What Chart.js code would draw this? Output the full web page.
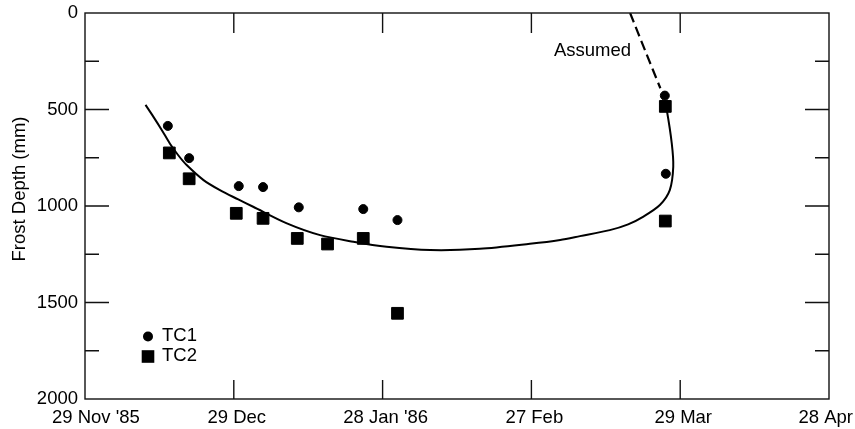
<!DOCTYPE html>
<html lang="en">
<head>
<meta charset="UTF-8">
<title>Frost Depth</title>
<script src="https://cdn.jsdelivr.net/npm/chart.js@4.4.1/dist/chart.umd.min.js"></script>
<style>
    body { margin: 0; background: #fff; }
</style>
</head>
<body>
<canvas id="frostChart" width="855" height="429"></canvas>

<script>
    // x values are days counted from 29 Nov 1985
    const dateTicks = [0, 30, 60, 90, 120, 150];
    const dateLabels = ["29 Nov '85", "29 Dec", "28 Jan '86", "27 Feb", "29 Mar", "28 Apr"];

    // thermocouple readings (mm)
    const tc1Days = [16.7, 21.0, 31.0, 35.9, 43.1, 56.1, 63.0, 116.9, 117.1];
    const tc1Depth = [585, 752, 897, 902, 1007, 1016, 1073, 428, 833];
    const tc2Days = [17.0, 21.0, 30.5, 35.9, 42.8, 48.9, 56.1, 63.0, 117.0, 117.0];
    const tc2Depth = [725, 859, 1038, 1064, 1168, 1197, 1168, 1556, 484, 1078];

    // fitted frost line
    const curveDays = [12.2, 13.8, 15.5, 17.1, 18.8, 20.5, 23.9, 27.2, 30.9, 33.9, 40.7, 47.4, 54.1,
        60.8, 69.6, 79.6, 89.7, 95.8, 99.8, 105.8, 109.5, 112.5, 115.9, 117.9, 118.6, 118.3, 117.3, 117.0];
    const curveDepth = [476, 538, 607, 676, 737, 788, 866, 918, 966, 1004, 1090, 1151, 1185,
        1211, 1228, 1222, 1196, 1176, 1156, 1125, 1095, 1056, 995, 918, 797, 676, 504, 484];

    // assumed thaw from the surface
    const assumedDays = [109.9, 112.9, 116.0];
    const assumedDepth = [0, 193, 390];

    const FONT = "'Liberation Sans', Arial, sans-serif";
    const pts = (xs, ys) => xs.map((v, i) => ({ x: v, y: ys[i] }));

    // box, inward ticks, date labels, axis title, note and key
    const frame = {
        id: 'frame',
        afterDraw(chart) {
            const { ctx, chartArea: a, scales: { x, y } } = chart;
            ctx.save();
            ctx.strokeStyle = '#111';
            ctx.lineWidth = 1.4;
            ctx.strokeRect(a.left, a.top, a.right - a.left, a.bottom - a.top);

            ctx.beginPath();
            for (let d = 250; d < 2000; d += 250) {
                const py = y.getPixelForValue(d);
                const len = d % 500 === 0 ? 24 : 14;
                ctx.moveTo(a.left, py); ctx.lineTo(a.left + len, py);
                ctx.moveTo(a.right, py); ctx.lineTo(a.right - len, py);
            }
            dateTicks.slice(1, -1).forEach(d => {
                const px = x.getPixelForValue(d);
                ctx.moveTo(px, a.bottom); ctx.lineTo(px, a.bottom - 19);
                ctx.moveTo(px, a.top); ctx.lineTo(px, a.top + 20);
            });
            ctx.stroke();

            ctx.fillStyle = '#000';
            ctx.font = '18.5px ' + FONT;

            // date labels, kept inside the canvas at both ends
            ctx.textAlign = 'left';
            ctx.textBaseline = 'alphabetic';
            dateTicks.forEach((d, i) => {
                const w = ctx.measureText(dateLabels[i]).width;
                let lx = x.getPixelForValue(d) + 3 - w / 2;
                lx = Math.max(52, Math.min(lx, chart.width - 2 - w));
                ctx.fillText(dateLabels[i], lx, a.bottom + 24);
            });

            // y axis title
            ctx.save();
            ctx.translate(25, 189);
            ctx.rotate(-Math.PI / 2);
            ctx.textAlign = 'center';
            ctx.fillText('Frost Depth (mm)', 0, 0);
            ctx.restore();

            ctx.textAlign = 'right';
            ctx.fillText('Assumed', x.getPixelForValue(110.1), y.getPixelForValue(225));

            // key
            const kx = a.left + 63;
            ctx.beginPath();
            ctx.arc(kx, a.bottom - 62.5, 5, 0, Math.PI * 2);
            ctx.fill();
            ctx.fillRect(kx - 6.3, a.bottom - 42.5 - 6.3, 12.6, 12.6);
            ctx.textAlign = 'left';
            ctx.textBaseline = 'middle';
            ctx.fillText('TC1', kx + 14, a.bottom - 63);
            ctx.fillText('TC2', kx + 14, a.bottom - 43);
            ctx.restore();
        }
    };

    new Chart(document.getElementById('frostChart'), {
        type: 'scatter',
        data: {
            datasets: [
                {
                    label: 'Fit',
                    data: pts(curveDays, curveDepth),
                    showLine: true,
                    borderColor: '#000',
                    borderWidth: 2,
                    pointRadius: 0,
                    tension: 0.3
                },
                {
                    label: 'Assumed',
                    data: pts(assumedDays, assumedDepth),
                    showLine: true,
                    borderColor: '#000',
                    borderWidth: 2.2,
                    borderDash: [10, 5],
                    pointRadius: 0,
                    tension: 0.3
                },
                {
                    label: 'TC1',
                    data: pts(tc1Days, tc1Depth),
                    pointStyle: 'circle',
                    pointRadius: 4.5,
                    borderWidth: 1,
                    backgroundColor: '#000',
                    borderColor: '#000'
                },
                {
                    label: 'TC2',
                    data: pts(tc2Days, tc2Depth),
                    pointStyle: 'rect',
                    pointRadius: 8.3,
                    borderWidth: 1,
                    backgroundColor: '#000',
                    borderColor: '#000'
                }
            ]
        },
        options: {
            responsive: false,
            animation: false,
            layout: { padding: { top: 13, right: 26, left: 0, bottom: 0 } },
            plugins: {
                legend: { display: false },
                tooltip: { enabled: false }
            },
            scales: {
                x: {
                    type: 'linear',
                    min: 0,
                    max: 150,
                    grid: { display: false, drawTicks: false },
                    border: { display: false },
                    ticks: { display: false },
                    afterFit: s => { s.height = 30; s.paddingLeft = 0; s.paddingRight = 0; }
                },
                y: {
                    reverse: true,
                    min: 0,
                    max: 2000,
                    grid: { display: false, drawTicks: false },
                    border: { display: false },
                    ticks: {
                        stepSize: 500,
                        padding: 7,
                        color: '#000',
                        font: { family: FONT, size: 18.5 },
                        callback: v => String(v)
                    },
                    afterFit: s => { s.width = 85; s.paddingTop = 0; s.paddingBottom = 0; }
                }
            }
        },
        plugins: [frame]
    });
</script>
</body>
</html>
